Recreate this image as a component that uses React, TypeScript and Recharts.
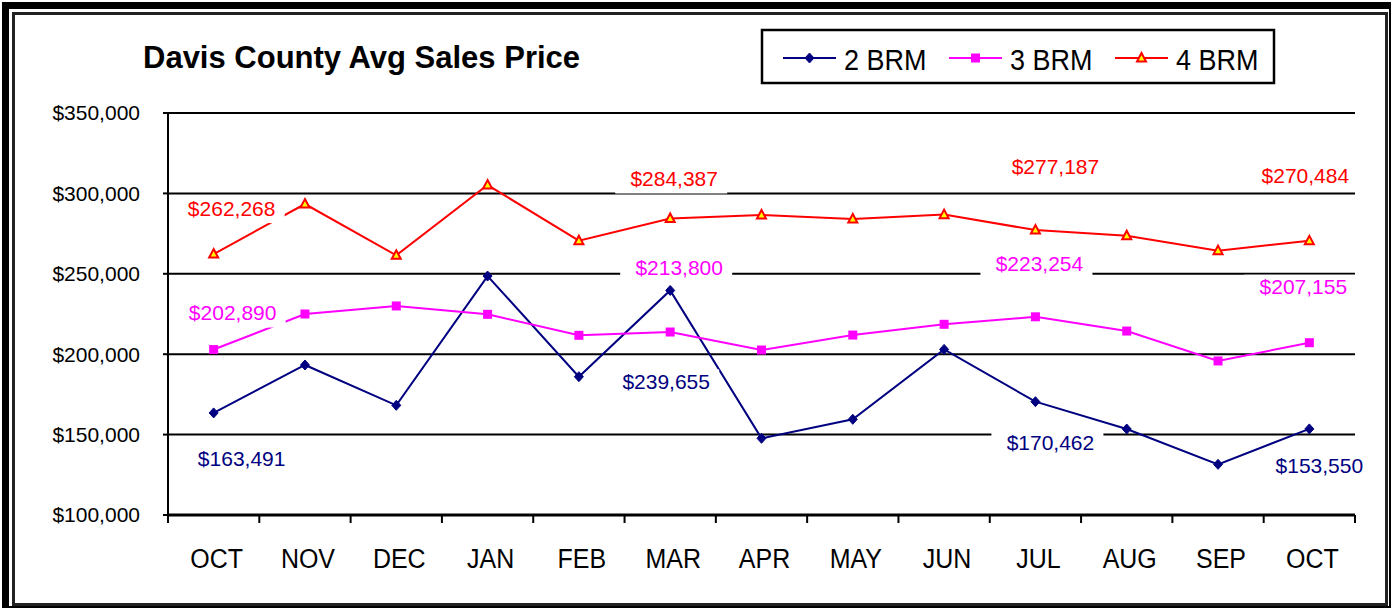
import React from "react";
import { LineChart, Line, XAxis, YAxis, CartesianGrid, LabelList } from "recharts";

const months = ["OCT", "NOV", "DEC", "JAN", "FEB", "MAR", "APR", "MAY", "JUN", "JUL", "AUG", "SEP", "OCT"];
const brm2 = [163491, 193300, 168200, 248600, 186000, 239655, 147700, 159500, 203000, 170462, 153500, 131500, 153550];
const brm3 = [202890, 225000, 230000, 224800, 211750, 213800, 202600, 211900, 218600, 223254, 214400, 195800, 207155];
const brm4 = [262268, 293400, 261500, 305200, 270600, 284387, 286600, 284100, 286800, 277187, 273700, 264400, 270484];
const yTicks = [100000, 150000, 200000, 250000, 300000, 350000];

const data = months.map((m, i) => ({ month: m, brm2: brm2[i], brm3: brm3[i], brm4: brm4[i] }));

const FONT = '"Liberation Sans", Arial, Helvetica, sans-serif';
const NAVY = "#000080";
const MAGENTA = "#FF00FF";
const RED = "#FF0000";
const PLOT_W = 1187;
const HALF_BAND = PLOT_W / months.length / 2;

// where each labelled point's text sits, relative to the point
const labelOffsets: Record<string, Record<number, [number, number]>> = {
    brm2: { 0: [28, 46], 5: [-4, 91], 9: [15, 41], 12: [10, 37] },
    brm3: { 0: [19, -37], 5: [9, -65], 9: [4, -53], 12: [-6, -56] },
    brm4: { 0: [18, -46], 5: [4, -40], 9: [20, -64], 12: [-4, -65] },
};

const money = (v: number) => "$" + Math.round(v).toLocaleString("en-US");

const makeLabel = (key: string, color: string) => (props: any) => {
    const off = labelOffsets[key][props.index];
    if (!off) return null;
    const vb = props.viewBox || {};
    const px = props.x ?? vb.x;
    const py = props.y ?? vb.y;
    if (px == null || py == null) return null;
    const cx = px + off[0];
    const cy = py + off[1];
    return (
        <g>
            <rect x={cx - 59} y={cy - 12} width={112} height={27} fill="#fff" />
            <text x={cx} y={cy + 7.5} textAnchor="middle" fontSize={21} fontFamily={FONT} fill={color}>
                {money(Number(props.value))}
            </text>
        </g>
    );
};

const Diamond = ({ cx, cy }: any) =>
    cx == null ? null : <polygon points={`${cx},${cy - 5} ${cx + 4.5},${cy} ${cx},${cy + 5} ${cx - 4.5},${cy}`} fill={NAVY} stroke={NAVY} strokeWidth={1} />;
const Square = ({ cx, cy }: any) =>
    cx == null ? null : <rect x={cx - 4.5} y={cy - 4.5} width={9} height={9} fill={MAGENTA} />;
const Triangle = ({ cx, cy }: any) =>
    cx == null ? null : <polygon points={`${cx},${cy - 5} ${cx + 4.5},${cy + 3.5} ${cx - 4.5},${cy + 3.5}`} fill="#FFFF00" stroke={RED} strokeWidth={2} />;

const MonthTick = (props: any) => {
    const { x, y, payload, index } = props;
    return (
        <g>
            <line x1={x - HALF_BAND} x2={x - HALF_BAND} y1={y} y2={y + 8} stroke="#000" strokeWidth={2} />
            {index === months.length - 1 && <line x1={x + HALF_BAND} x2={x + HALF_BAND} y1={y} y2={y + 8} stroke="#000" strokeWidth={2} />}
            <text transform={`translate(${x + 3},${y + 53}) scale(1,1.12)`} textAnchor="middle" fontSize={25} fontFamily={FONT} fill="#000">
                {payload.value}
            </text>
        </g>
    );
};

export default function App() {
    const legendItems = [
        { name: "2 BRM", color: NAVY, x: 783, marker: "d" },
        { name: "3 BRM", color: MAGENTA, x: 949, marker: "s" },
        { name: "4 BRM", color: RED, x: 1115, marker: "t" },
    ];
    return (
        <div style={{ position: "fixed", left: 0, top: 0, width: 1393, height: 610, background: "#fff", fontFamily: FONT }}>
            <LineChart width={1393} height={610} data={data} margin={{ top: 113, right: 38, bottom: 35, left: 8 }}>
                <CartesianGrid horizontal vertical={false} stroke="#000" strokeWidth={2} />
                <XAxis
                    dataKey="month"
                    padding={{ left: HALF_BAND, right: HALF_BAND }}
                    height={60}
                    tickSize={0}
                    tickMargin={0}
                    tickLine={false}
                    axisLine={{ stroke: "#000", strokeWidth: 3 }}
                    interval={0}
                    tick={<MonthTick />}
                />
                <YAxis
                    width={160}
                    domain={[100000, 350000]}
                    ticks={yTicks}
                    interval={0}
                    tickSize={5}
                    tickMargin={23}
                    tickLine={{ stroke: "#000", strokeWidth: 2 }}
                    axisLine={{ stroke: "#000", strokeWidth: 2 }}
                    tick={{ fill: "#000", fontSize: 21, fontFamily: FONT }}
                    tickFormatter={(v) => money(v)}
                />
                <Line dataKey="brm2" stroke={NAVY} strokeWidth={2} dot={<Diamond />} activeDot={false} isAnimationActive={false}>
                    <LabelList dataKey="brm2" content={makeLabel("brm2", NAVY)} />
                </Line>
                <Line dataKey="brm3" stroke={MAGENTA} strokeWidth={2} dot={<Square />} activeDot={false} isAnimationActive={false}>
                    <LabelList dataKey="brm3" content={makeLabel("brm3", MAGENTA)} />
                </Line>
                <Line dataKey="brm4" stroke={RED} strokeWidth={2} dot={<Triangle />} activeDot={false} isAnimationActive={false}>
                    <LabelList dataKey="brm4" content={makeLabel("brm4", RED)} />
                </Line>
            </LineChart>

            <svg width={1393} height={610} style={{ position: "absolute", left: 0, top: 0, pointerEvents: "none" }}>
                <text x={143} y={68} fontSize={31} fontWeight="bold" fontFamily={FONT} fill="#000">
                    Davis County Avg Sales Price
                </text>
                <rect x={762} y={30} width={512} height={53} fill="none" stroke="#000" strokeWidth={2.5} />
                {legendItems.map((it) => (
                    <g key={it.name}>
                        <line x1={it.x} x2={it.x + 53} y1={58} y2={58} stroke={it.color} strokeWidth={2} />
                        {it.marker === "d" && <Diamond cx={it.x + 26.5} cy={58} />}
                        {it.marker === "s" && <Square cx={it.x + 26.5} cy={58} />}
                        {it.marker === "t" && <Triangle cx={it.x + 26.5} cy={58} />}
                        <text transform={`translate(${it.x + 61},70) scale(1,1.12)`} fontSize={27} fontFamily={FONT} fill="#000">
                            {it.name}
                        </text>
                    </g>
                ))}
            </svg>

            <div style={{ position: "absolute", left: 2, top: 2, width: 1389, height: 606, boxSizing: "border-box", borderTop: "7px solid #000", borderLeft: "7px solid #000", borderRight: "2px solid #000", borderBottom: "2px solid #000" }} />
            <div style={{ position: "absolute", left: 12, top: 12, width: 1376, height: 594, boxSizing: "border-box", border: "3px solid #222" }} />
        </div>
    );
}
